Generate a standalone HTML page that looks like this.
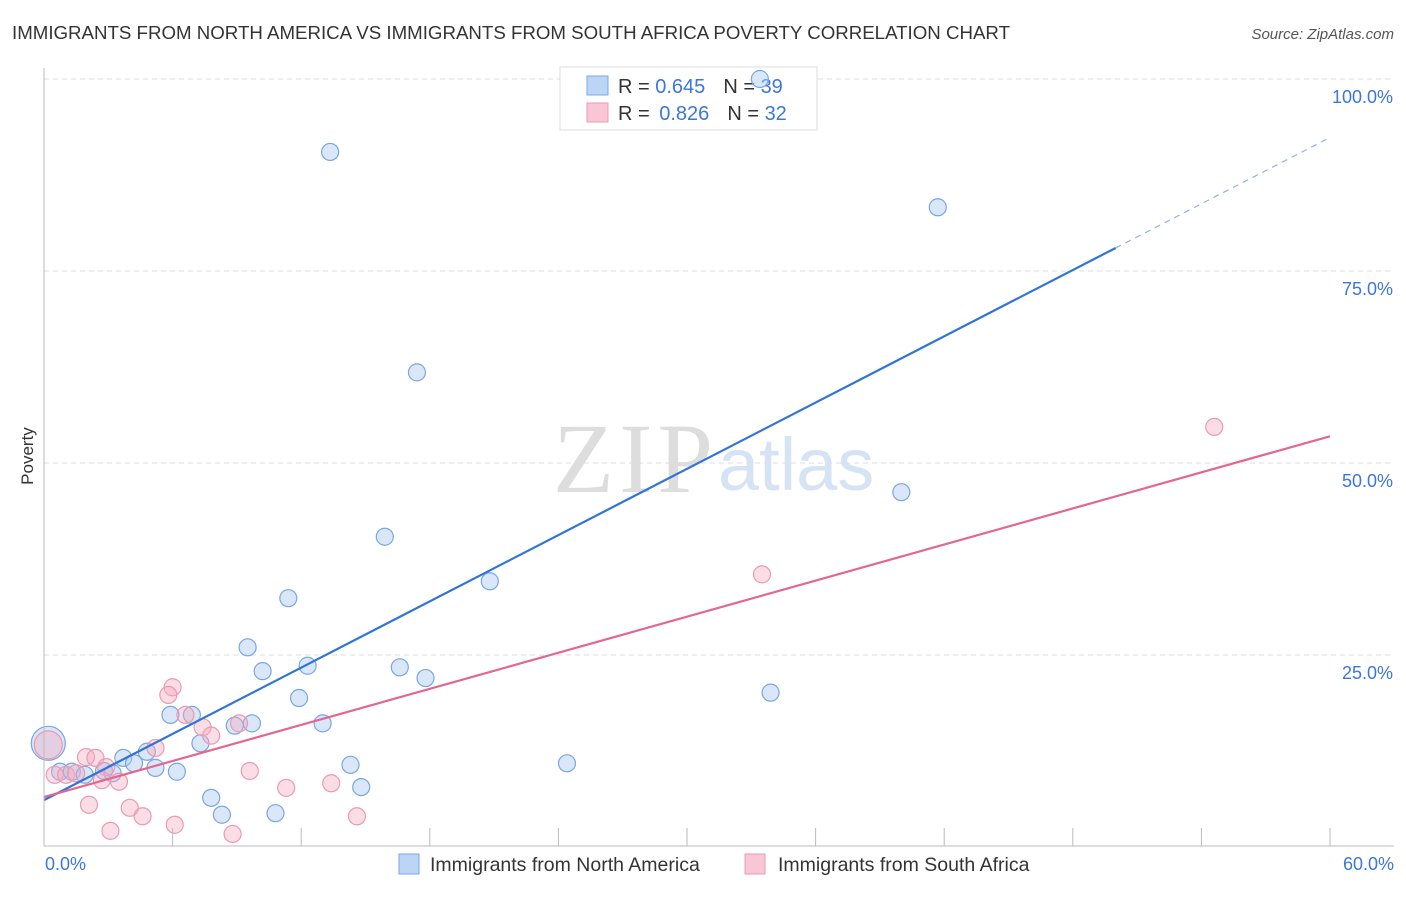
<!DOCTYPE html>
<html><head><meta charset="utf-8"><style>
body{margin:0;background:#fff;font-family:"Liberation Sans",sans-serif}
</style></head><body>
<svg width="1406" height="892" xmlns="http://www.w3.org/2000/svg">
<text x="12" y="39" font-size="18" fill="#333" textLength="998" lengthAdjust="spacingAndGlyphs">IMMIGRANTS FROM NORTH AMERICA VS IMMIGRANTS FROM SOUTH AFRICA POVERTY CORRELATION CHART</text>
<text x="1394" y="39" font-size="15" fill="#555" font-style="italic" text-anchor="end">Source: ZipAtlas.com</text>
<text x="33" y="456" font-size="17" fill="#333" transform="rotate(-90 33 456)" text-anchor="middle">Poverty</text>
<g id="grid"></g>
<text x="553" y="492" font-size="100" fill="#ddd" font-family="Liberation Serif,serif" textLength="160">ZIP</text>
<text x="718" y="490" font-size="74" fill="#d6e3f5">atlas</text>
<g>
<rect x="560" y="67" width="257" height="63" fill="#fff" stroke="#ddd"/>
<rect x="587" y="76" width="21" height="19" fill="#bcd5f5" stroke="#7aa8e8"/>
<rect x="587" y="103" width="21" height="19" fill="#f8c6d4" stroke="#ec9ab2"/>
<text x="618" y="93" font-size="20" fill="#333">R = <tspan fill="#3b78d8">0.645</tspan><tspan dx="18">N = </tspan><tspan fill="#3b78d8">39</tspan></text>
<text x="618" y="120" font-size="20" fill="#333">R = <tspan fill="#3b78d8" dx="4">0.826</tspan><tspan dx="18">N = </tspan><tspan fill="#3b78d8">32</tspan></text>
</g>
<g id="marks"></g>
<line x1="44" y1="68" x2="44" y2="846" stroke="#bbb"/>
<line x1="44" y1="846" x2="1394" y2="846" stroke="#bbb"/>
<text x="45" y="870" font-size="18" fill="#3b78d8">0.0%</text>
<text x="1394" y="870" font-size="18" fill="#3b78d8" text-anchor="end">60.0%</text>
<g>
<rect x="399" y="854" width="20" height="20" fill="#bcd5f5" stroke="#7aa8e8"/>
<text x="430" y="871" font-size="19.5" fill="#333">Immigrants from North America</text>
<rect x="745" y="854" width="20" height="20" fill="#f8c6d4" stroke="#ec9ab2"/>
<text x="778" y="871" font-size="19.5" fill="#333">Immigrants from South Africa</text>
</g>
</svg>
<script>
const yTicks=[25,50,75,100];
const yTickLabels=["25.0%","50.0%","75.0%","100.0%"];
const xTicks=[0,6,12,18,24,30,36,42,48,54,60];
const blueX=[13.35,41.7,33.4,17.4,40.0,15.9,20.8,11.4,9.5,12.3,10.2,16.6,17.8,33.9,11.9,5.9,6.9,9.7,8.9,13.0,7.3,3.7,4.8,4.2,5.2,6.2,14.3,24.4,0.75,1.3,1.9,2.8,3.2,14.8,7.8,8.3,10.8];
const blueY=[90.5,83.3,100,61.8,46.2,40.4,34.6,32.4,26.0,23.6,22.9,23.4,22.0,20.1,19.4,17.2,17.2,16.1,15.8,16.1,13.5,11.6,12.4,10.9,10.3,9.8,10.7,10.9,9.8,9.8,9.4,9.9,9.6,7.8,6.4,4.2,4.4];
const pinkX=[54.6,33.5,6.0,5.8,6.6,7.4,7.8,9.1,5.2,1.96,2.4,2.9,0.5,1.03,1.5,2.7,3.5,9.6,11.3,13.4,2.1,4.0,4.6,6.1,3.1,8.8,14.6];
const pinkY=[54.7,35.5,20.8,19.8,17.2,15.6,14.5,16.1,12.9,11.7,11.6,10.4,9.4,9.4,9.6,8.7,8.5,9.9,7.7,8.3,5.5,5.1,4.0,2.9,2.1,1.7,4.0];
const bigBlue=[0.2,13.5], bigPink=[0.2,13.3];
const blueTrend=[6.1,1.438], pinkTrend=[6.5,0.783];
const NS="http://www.w3.org/2000/svg";
const sx=v=>44+v*1286/60, sy=v=>847-v*7.68;
const grid=document.getElementById('grid'), marks=document.getElementById('marks');
function mk(tag,attrs,parent){const e=document.createElementNS(NS,tag);for(const k in attrs)e.setAttribute(k,attrs[k]);parent.appendChild(e);return e;}
yTicks.forEach((t,i)=>{
 const l=mk('line',{x1:44,x2:1394,y1:sy(t),y2:sy(t),stroke:'#ddd','stroke-dasharray':'5,4'},grid);
 
 
 const tx=mk('text',{x:1393,y:sy(t)+24,'font-size':18,fill:'#3b78d8','text-anchor':'end'},grid);
 tx.textContent=yTickLabels[i];
 
 
});
xTicks.forEach(t=>{
 const l=mk('line',{x1:sx(t),x2:sx(t),y1:828,y2:846,stroke:'#bbb'},grid);
 
 
});
function dot(x,y,r,c){
 const blue=c==='b';
 const e=mk('circle',{cx:sx(x),cy:sy(y),r:r,fill:blue?'rgba(170,202,242,0.45)':'rgba(244,170,192,0.4)',stroke:blue?'#7aa6e2':'#eb9ab2','stroke-width':1.2},marks);
 
 
}
blueX.forEach((x,i)=>dot(x,blueY[i],8.5,'b'));
pinkX.forEach((x,i)=>dot(x,pinkY[i],8.5,'p'));
dot(bigBlue[0],bigBlue[1],17,'b');
dot(bigPink[0],bigPink[1],14,'p');
const bl=mk('line',{x1:sx(0),y1:sy(blueTrend[0]),x2:sx(50),y2:sy(blueTrend[0]+blueTrend[1]*50),stroke:'#2f74d8','stroke-width':2.2},marks);


const bd=mk('line',{x1:sx(50),y1:sy(blueTrend[0]+blueTrend[1]*50),x2:sx(60),y2:sy(blueTrend[0]+blueTrend[1]*60),stroke:'#8fb3e6','stroke-width':1.2,'stroke-dasharray':'6,5'},marks);


const pl=mk('line',{x1:sx(0),y1:sy(pinkTrend[0]),x2:sx(60),y2:sy(pinkTrend[0]+pinkTrend[1]*60),stroke:'#e4668f','stroke-width':2.2},marks);


</script>
</body></html>
